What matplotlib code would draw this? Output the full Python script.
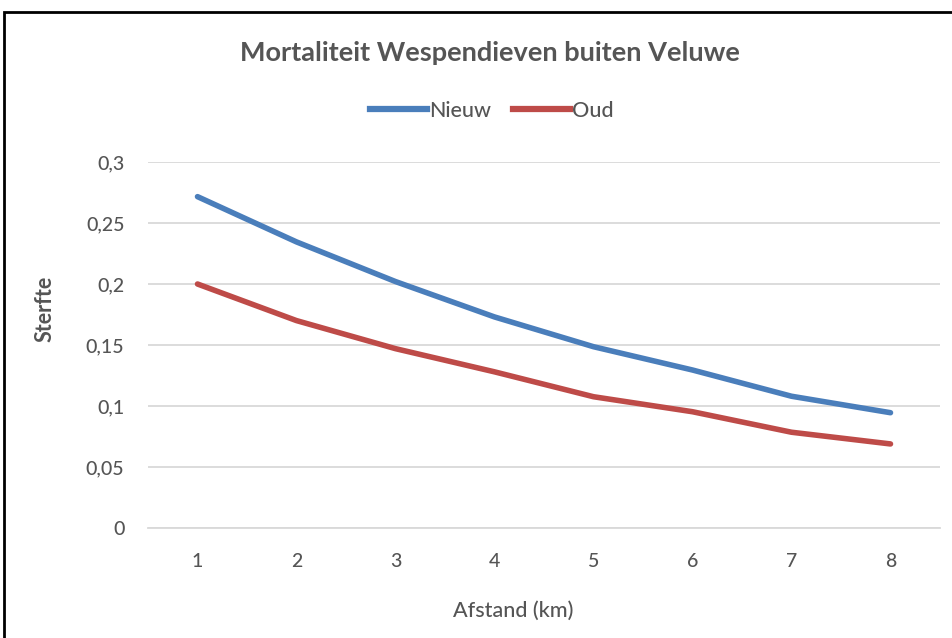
import matplotlib
matplotlib.use("Agg")
import matplotlib.pyplot as plt
from matplotlib.patches import Rectangle
from matplotlib.lines import Line2D

afstand = [1, 2, 3, 4, 5, 6, 7, 8]
nieuw = [0.2716, 0.2345, 0.202, 0.173, 0.1486, 0.1295, 0.108, 0.0945]
oud = [0.200, 0.170, 0.147, 0.128, 0.1076, 0.0953, 0.0785, 0.0689]
yticks = [0, 0.05, 0.1, 0.15, 0.2, 0.25, 0.3]
ytick_labels = ["0", "0,05", "0,1", "0,15", "0,2", "0,25", "0,3"]

plt.rcParams['font.family'] = ['Lato', 'DejaVu Sans']
grey = "#555555"

fig = plt.figure(figsize=(9.53, 6.38), dpi=100)
ax = fig.add_axes([148/953, 1-528/638, 792/953, 366/638])

ax.plot(afstand, nieuw, color="#4a7ebb", lw=4, solid_capstyle="round", label="Nieuw")
ax.plot(afstand, oud, color="#be4b48", lw=4, solid_capstyle="round", label="Oud")

ax.set_xlim(0.5, 8.5)
ax.set_ylim(0, 0.3)
ax.set_yticks(yticks)
ax.set_yticklabels(ytick_labels)
ax.set_xticks(afstand)
ax.set_xticklabels([str(a) for a in afstand])
ax.yaxis.grid(True, color="#d9d9d9", lw=1.3)
ax.set_axisbelow(True)
for s in ["top", "right", "left"]:
    ax.spines[s].set_visible(False)
ax.spines["bottom"].set_color("#d9d9d9")
ax.spines["bottom"].set_linewidth(1.3)
ax.tick_params(axis="both", length=0, labelsize=14, colors=grey)
ax.tick_params(axis="y", pad=17)
ax.tick_params(axis="x", pad=18)
for lab in ax.get_xticklabels() + ax.get_yticklabels():
    lab.set_fontweight("medium")

fig.text(513/953, 1-617/638, "Afstand (km)", ha="center", va="baseline",
         fontsize=15.5, color=grey, fontweight="medium")
fig.text(45/953, 1-309/638, "Sterfte", ha="center", va="center", rotation=90,
         fontsize=15.5, color=grey, fontweight="bold")

fig.text(490/953, 1-61/638, "Mortaliteit Wespendieven buiten Veluwe", ha="center", va="baseline",
         fontsize=19.5, fontweight="bold", color=grey)

handles = [Line2D([], [], color="#4a7ebb", lw=4.5), Line2D([], [], color="#be4b48", lw=4.5)]
leg = fig.legend(handles, ["Nieuw", "Oud"], loc="center", bbox_to_anchor=(492/953, 1-111/638),
                 ncol=2, frameon=False, fontsize=15.5, labelcolor=grey, handlelength=2.65,
                 handletextpad=0.1, columnspacing=1.0)
for t in leg.get_texts():
    t.set_fontweight("medium")

fig.patches.append(Rectangle((4/953, -0.05), 1.2, 1.05 - 12/638, transform=fig.transFigure,
                             fill=False, edgecolor="black", lw=2))

fig.savefig("out.png", dpi=100)
